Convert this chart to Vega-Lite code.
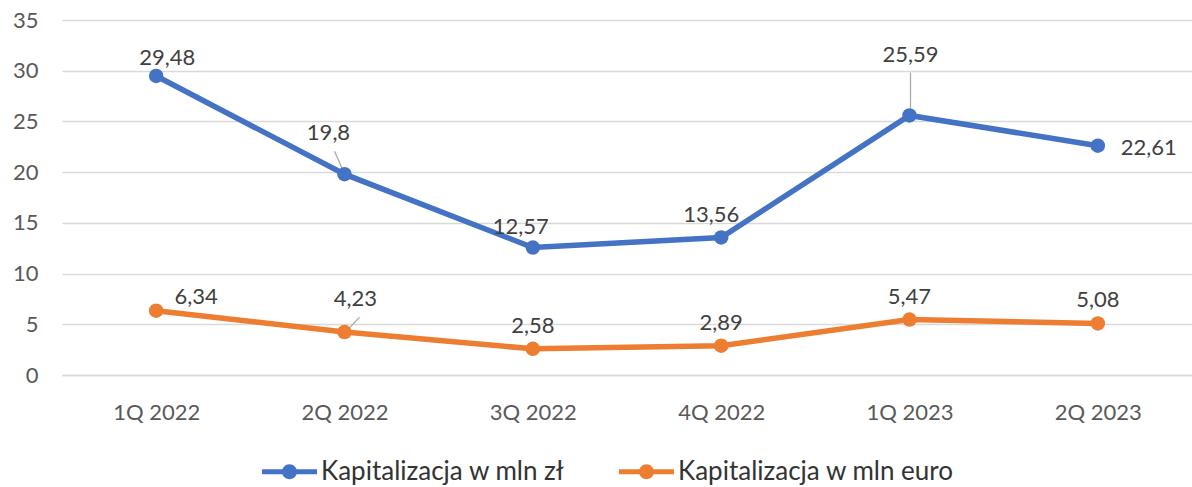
{
  "$schema": "https://vega.github.io/schema/vega-lite/v6.json",
  "width": 1130,
  "height": 355,
  "autosize": {"type": "none"},
  "padding": {"left": 62, "top": 20, "right": 0, "bottom": 112},
  "background": "white",
  "data": {"values": [
    {"quarter": "1Q 2022", "series": "Kapitalizacja w mln zł", "value": 29.48},
    {"quarter": "2Q 2022", "series": "Kapitalizacja w mln zł", "value": 19.8},
    {"quarter": "3Q 2022", "series": "Kapitalizacja w mln zł", "value": 12.57},
    {"quarter": "4Q 2022", "series": "Kapitalizacja w mln zł", "value": 13.56},
    {"quarter": "1Q 2023", "series": "Kapitalizacja w mln zł", "value": 25.59},
    {"quarter": "2Q 2023", "series": "Kapitalizacja w mln zł", "value": 22.61},
    {"quarter": "1Q 2022", "series": "Kapitalizacja w mln euro", "value": 6.34},
    {"quarter": "2Q 2022", "series": "Kapitalizacja w mln euro", "value": 4.23},
    {"quarter": "3Q 2022", "series": "Kapitalizacja w mln euro", "value": 2.58},
    {"quarter": "4Q 2022", "series": "Kapitalizacja w mln euro", "value": 2.89},
    {"quarter": "1Q 2023", "series": "Kapitalizacja w mln euro", "value": 5.47},
    {"quarter": "2Q 2023", "series": "Kapitalizacja w mln euro", "value": 5.08}
  ]},
  "encoding": {
    "x": {"field": "quarter", "type": "ordinal", "sort": ["1Q 2022", "2Q 2022", "3Q 2022", "4Q 2022", "1Q 2023", "2Q 2023"],
      "scale": {"type": "point", "padding": 0.5},
      "axis": {"title": null, "labelAngle": 0, "ticks": false, "domain": true, "domainColor": "#d9d9d9", "domainWidth": 1.3, "labelPadding": 27, "grid": false}},
    "y": {"field": "value", "type": "quantitative",
      "scale": {"domain": [0, 35], "nice": false},
      "axis": {"title": null, "values": [0, 5, 10, 15, 20, 25, 30, 35], "domain": false, "ticks": false, "grid": true, "gridColor": "#d9d9d9", "gridWidth": 1.3, "labelPadding": 24}}
  },
  "layer": [
    {"mark": {"type": "rule", "color": "#a6a6a6", "strokeWidth": 1.2, "xOffset": 1, "yOffset": -7, "x2Offset": 1, "y2Offset": -43},
     "transform": [{"filter": "datum.quarter == '1Q 2023' && datum.series == 'Kapitalizacja w mln zł'"}],
     "encoding": {"x2": {"field": "quarter"}, "y2": {"field": "value"}}},
    {"mark": {"type": "rule", "color": "#a6a6a6", "strokeWidth": 1.2, "xOffset": -2, "yOffset": -5, "x2Offset": -10, "y2Offset": -23},
     "transform": [{"filter": "datum.quarter == '2Q 2022' && datum.series == 'Kapitalizacja w mln zł'"}],
     "encoding": {"x2": {"field": "quarter"}, "y2": {"field": "value"}}},
    {"mark": {"type": "rule", "color": "#a6a6a6", "strokeWidth": 1.2, "xOffset": 2, "yOffset": -1, "x2Offset": 15, "y2Offset": -15},
     "transform": [{"filter": "datum.quarter == '2Q 2022' && datum.series == 'Kapitalizacja w mln euro'"}],
     "encoding": {"x2": {"field": "quarter"}, "y2": {"field": "value"}}},
    {"mark": {"type": "line", "strokeWidth": 5.5, "point": {"filled": true, "size": 210, "opacity": 1}},
     "encoding": {"color": {"field": "series", "type": "nominal",
       "scale": {"domain": ["Kapitalizacja w mln zł", "Kapitalizacja w mln euro"], "range": ["#4472C4", "#ED7D31"]},
       "legend": {"title": null, "orient": "none", "legendX": 200, "legendY": 424, "direction": "horizontal",
         "symbolType": "M-1,-0.09H1V0.09H-1Z M-0.27,0A0.27,0.27 0 1,1 0.27,0A0.27,0.27 0 1,1 -0.27,0Z",
         "symbolSize": 3025, "symbolStrokeWidth": 0, "labelFontSize": 26, "labelColor": "#333333", "labelFont": "Lato",
         "columnPadding": 54, "labelOffset": 4, "labelLimit": 500,
         "encode": {"symbols": {"update": {"fill": {"scale": "color", "field": "value"}, "stroke": {"value": "transparent"}, "opacity": {"value": 1}}}}}}}},
    {"mark": {"type": "text", "dx": 11, "dy": -18, "fontSize": 22, "font": "Lato", "color": "#404040", "baseline": "middle"},
     "transform": [{"filter": "datum.quarter == '1Q 2022' && datum.series == 'Kapitalizacja w mln zł'"}],
     "encoding": {"text": {"field": "value", "type": "quantitative", "format": "~g"}}},
    {"mark": {"type": "text", "dx": -16, "dy": -41, "fontSize": 22, "font": "Lato", "color": "#404040", "baseline": "middle"},
     "transform": [{"filter": "datum.quarter == '2Q 2022' && datum.series == 'Kapitalizacja w mln zł'"}],
     "encoding": {"text": {"field": "value", "type": "quantitative", "format": "~g"}}},
    {"mark": {"type": "text", "dx": -12, "dy": -21, "fontSize": 22, "font": "Lato", "color": "#404040", "baseline": "middle"},
     "transform": [{"filter": "datum.quarter == '3Q 2022' && datum.series == 'Kapitalizacja w mln zł'"}],
     "encoding": {"text": {"field": "value", "type": "quantitative", "format": "~g"}}},
    {"mark": {"type": "text", "dx": -10, "dy": -22, "fontSize": 22, "font": "Lato", "color": "#404040", "baseline": "middle"},
     "transform": [{"filter": "datum.quarter == '4Q 2022' && datum.series == 'Kapitalizacja w mln zł'"}],
     "encoding": {"text": {"field": "value", "type": "quantitative", "format": "~g"}}},
    {"mark": {"type": "text", "dx": 1, "dy": -60, "fontSize": 22, "font": "Lato", "color": "#404040", "baseline": "middle"},
     "transform": [{"filter": "datum.quarter == '1Q 2023' && datum.series == 'Kapitalizacja w mln zł'"}],
     "encoding": {"text": {"field": "value", "type": "quantitative", "format": "~g"}}},
    {"mark": {"type": "text", "dx": 51, "dy": 2, "fontSize": 22, "font": "Lato", "color": "#404040", "baseline": "middle"},
     "transform": [{"filter": "datum.quarter == '2Q 2023' && datum.series == 'Kapitalizacja w mln zł'"}],
     "encoding": {"text": {"field": "value", "type": "quantitative", "format": "~g"}}},
    {"mark": {"type": "text", "dx": 40, "dy": -14, "fontSize": 22, "font": "Lato", "color": "#404040", "baseline": "middle"},
     "transform": [{"filter": "datum.quarter == '1Q 2022' && datum.series == 'Kapitalizacja w mln euro'"}],
     "encoding": {"text": {"field": "value", "type": "quantitative", "format": "~g"}}},
    {"mark": {"type": "text", "dx": 11, "dy": -33, "fontSize": 22, "font": "Lato", "color": "#404040", "baseline": "middle"},
     "transform": [{"filter": "datum.quarter == '2Q 2022' && datum.series == 'Kapitalizacja w mln euro'"}],
     "encoding": {"text": {"field": "value", "type": "quantitative", "format": "~g"}}},
    {"mark": {"type": "text", "dx": 0, "dy": -23, "fontSize": 22, "font": "Lato", "color": "#404040", "baseline": "middle"},
     "transform": [{"filter": "datum.series == 'Kapitalizacja w mln euro' && (datum.quarter == '3Q 2022' || datum.quarter == '4Q 2022' || datum.quarter == '1Q 2023' || datum.quarter == '2Q 2023')"}],
     "encoding": {"text": {"field": "value", "type": "quantitative", "format": "~g"}}}
  ],
  "config": {
    "locale": {"number": {"decimal": ",", "thousands": " ", "grouping": [3], "currency": ["", " zł"]}},
    "view": {"stroke": null},
    "axis": {"labelFont": "Lato", "labelFontSize": 22, "labelColor": "#595959"}
  }
}
